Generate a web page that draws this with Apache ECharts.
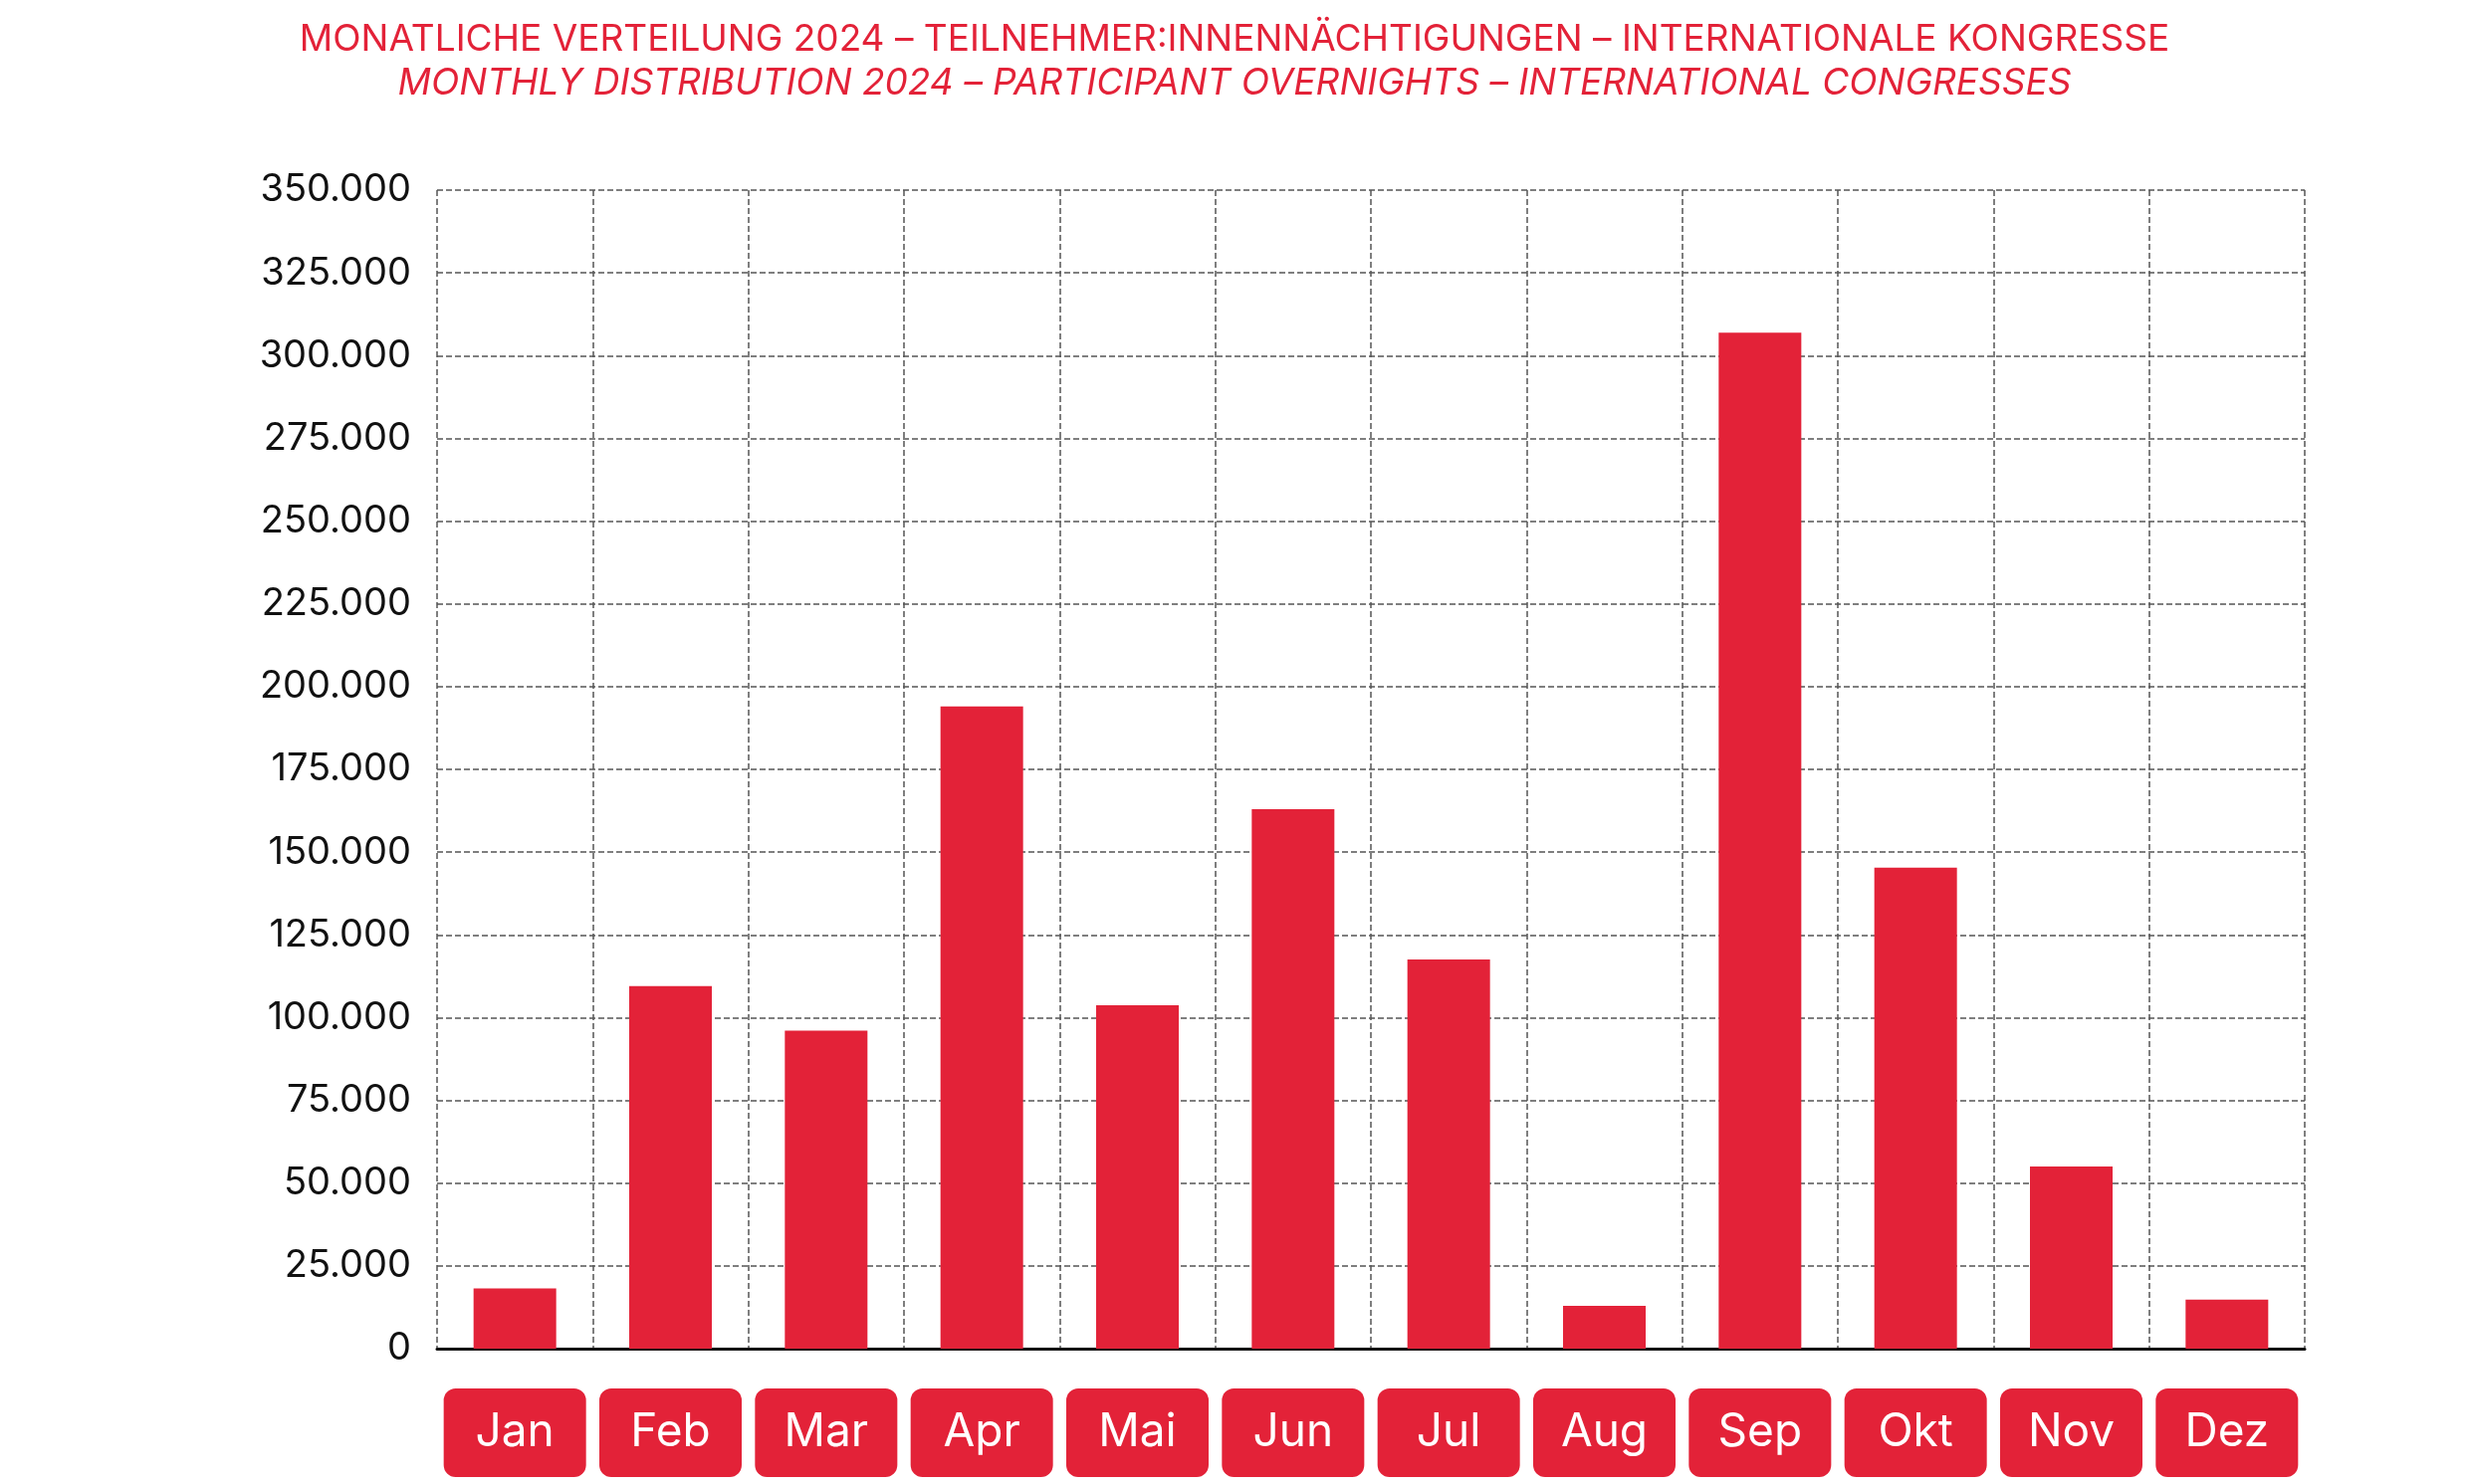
<!DOCTYPE html>
<html><head><meta charset="utf-8">
<script src="https://cdn.jsdelivr.net/npm/echarts@6/dist/echarts.min.js"></script>
<style>html,body{margin:0;padding:0;background:#fff}#c{width:2480px;height:1491px}</style>
</head><body><div id="c"></div>
<script>
const months = ['Jan','Feb','Mar','Apr','Mai','Jun','Jul','Aug','Sep','Okt','Nov','Dez'];
const overnights = [18200,109500,96100,194000,103700,163000,117600,12900,306900,145300,55000,14800];
const titleDe = 'MONATLICHE VERTEILUNG 2024 – TEILNEHMER:INNENNÄCHTIGUNGEN – INTERNATIONALE KONGRESSE';
const titleEn = 'MONTHLY DISTRIBUTION 2024 – PARTICIPANT OVERNIGHTS – INTERNATIONAL CONGRESSES';
const red = '#e32238';
const chart = echarts.init(document.getElementById('c'));
chart.setOption({
  animation:false,
  title:[
    {text:titleDe,left:'center',top:16,textStyle:{color:red,fontFamily:'Inter',fontWeight:'normal',fontSize:37}},
    {text:titleEn,left:'center',top:60,textStyle:{color:red,fontFamily:'Inter',fontWeight:'normal',fontStyle:'italic',fontSize:37}}
  ],
  grid:{left:439,right:165,top:191,bottom:136},
  xAxis:{type:'category',data:months,boundaryGap:true,
    axisLine:{lineStyle:{color:'#111',width:3}},axisTick:{show:false},
    splitLine:{show:true,lineStyle:{color:'#555',type:'dashed',width:1.5}},
    axisLabel:{margin:40,color:'#fff',fontFamily:'Inter',fontSize:46,backgroundColor:red,
      borderRadius:12,width:143,height:89,lineHeight:89,align:'center',verticalAlign:'top'}},
  yAxis:{type:'value',min:0,max:350000,interval:25000,
    axisLine:{show:false},axisTick:{show:false},
    splitLine:{lineStyle:{color:'#555',type:'dashed',width:1.5}},
    axisLabel:{margin:26,color:'#111',fontFamily:'Inter',fontSize:38,
      formatter:v=>v.toString().replace(/\B(?=(\d{3})+(?!\d))/g,'.')}},
  series:[{type:'bar',data:overnights,barWidth:83,itemStyle:{color:red}}]
});
</script></body></html>
